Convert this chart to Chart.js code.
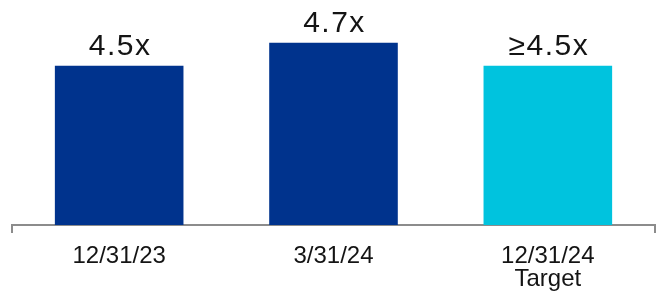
<!DOCTYPE html>
<html>
<head>
<meta charset="utf-8">
<script src="https://cdn.jsdelivr.net/npm/chart.js@4"></script>
<style>
  html, body { margin: 0; padding: 0; background: #fff; }
  #wrap { width: 668px; height: 295px; }
</style>
</head>
<body>
<div id="wrap"><canvas id="leverageChart"></canvas></div>
<script>
// chart data
const categories = [["12/31/23"], ["3/31/24"], ["12/31/24", "Target"]];
const values = [4.5, 4.7, 4.5];
const valueLabels = ["4.5x", "4.7x", "≥4.5x"];
const barColors = ["#00338d", "#00338d", "#00c3de"];

// labels above bars
const barLabels = {
  id: "barLabels",
  afterDatasetsDraw(chart) {
    const ctx = chart.ctx;
    const meta = chart.getDatasetMeta(0);
    ctx.save();
    ctx.font = "30px 'Liberation Sans', Arial, sans-serif";
    ctx.fillStyle = "#141414";
    ctx.textAlign = "center";
    ctx.textBaseline = "alphabetic";
    ctx.letterSpacing = "1.5px";
    meta.data.forEach((bar, i) => {
      ctx.fillText(valueLabels[i], bar.x + 1, bar.y - 11);
    });
    ctx.restore();
  }
};

const ctx = document.getElementById("leverageChart").getContext("2d");
new Chart(ctx, {
  type: "bar",
  data: {
    labels: categories,
    datasets: [{
      data: values,
      backgroundColor: barColors,
      borderWidth: 0,
      barPercentage: 0.6,
      categoryPercentage: 1
    }]
  },
  options: {
    responsive: true,
    maintainAspectRatio: false,
    animation: false,
    layout: { padding: { left: 12, right: 13, top: 0, bottom: 0 } },
    plugins: {
      legend: { display: false },
      tooltip: { enabled: false }
    },
    scales: {
      y: { display: false, min: 3.12, max: 5.07 },
      x: {
        afterFit(scale) { scale.height = 70; },
        border: { display: true, color: "#8c8c8c", width: 2 },
        grid: {
          drawOnChartArea: false,
          drawTicks: true,
          tickLength: 8,
          lineWidth: 2,
          // only the two end ticks are shown
          color: (c) => (c.index === 0 || c.index === undefined) ? "#8c8c8c" : "rgba(0,0,0,0)"
        },
        ticks: {
          color: "#141414",
          padding: 12,
          font: { family: "'Liberation Sans', Arial, sans-serif", size: 24, lineHeight: 0.95 }
        }
      }
    }
  },
  plugins: [barLabels]
});
</script>
</body>
</html>
